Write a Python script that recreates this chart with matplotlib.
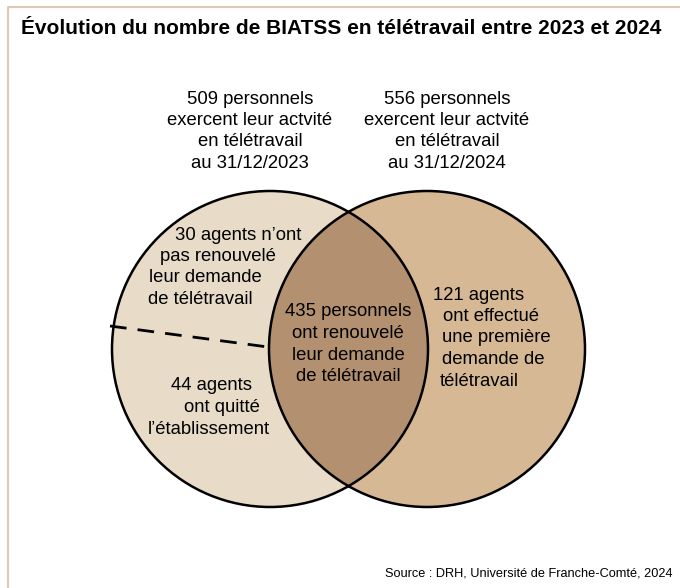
import matplotlib.pyplot as plt
from matplotlib.patches import Circle

# données
total_2023 = 509
total_2024 = 556
renouveles = 435
non_renouveles = 30
departs = 44
nouveaux = 121
annees = ["31/12/2023", "31/12/2024"]

plt.rcParams['font.family'] = ['Liberation Sans', 'DejaVu Sans']

fig = plt.figure(figsize=(6.8, 5.88), dpi=100)
ax = fig.add_axes([0, 0, 1, 1])
ax.set_xlim(0, 680)
ax.set_ylim(588, 0)
ax.axis('off')

# cadre
ax.plot([8, 8, 690], [600, 7, 7], color='#dccab6', lw=1.5, solid_capstyle='butt')

c_left = '#e8dcc8'
c_right = '#d6b895'
c_inter = '#b39170'
r = 158
cl = (270, 349)
cr = (427, 349)

ax.add_patch(Circle(cl, r, facecolor=c_left, edgecolor='none', zorder=1))
ax.add_patch(Circle(cr, r, facecolor=c_right, edgecolor='none', zorder=1))
inter = Circle(cr, r, facecolor=c_inter, edgecolor='none', zorder=2)
ax.add_patch(inter)
inter.set_clip_path(Circle(cl, r, transform=ax.transData))
for c in (cl, cr):
    ax.add_patch(Circle(c, r, facecolor='none', edgecolor='black', lw=1.8, zorder=3))

ax.plot([110, 268], [326, 347], color='black', lw=2, dashes=(6, 4), zorder=3)

ax.text(21, 28, "Évolution du nombre de BIATSS en télétravail entre 2023 et 2024",
        fontsize=15, fontweight='bold', va='center', ha='left')

fs = 13.3
lh = 21.5
def block(lines, x, y0, ha='center'):
    for i, s in enumerate(lines):
        xi = x[i] if isinstance(x, (list, tuple)) else x
        ax.text(xi, y0 + i * lh, s, fontsize=fs, ha=ha, va='center', zorder=4)

block([f"{total_2023} personnels", "exercent leur actvité", "en télétravail", f"au {annees[0]}"], 250, 99)
block([f"{total_2024} personnels", "exercent leur actvité", "en télétravail", f"au {annees[1]}"], 447, 99)

block([f"{non_renouveles} agents n’ont", "pas renouvelé", "leur demande", "de télétravail"],
      [175, 160, 149, 148], 235, ha='left')
block([f"{renouveles} personnels", "ont renouvelé", "leur demande", "de télétravail"], 348, 312)
block([f"{departs} agents", "ont quitté", "l’établissement"], [171, 184, 148], 386, ha='left')
block([f"{nouveaux} agents", "ont effectué", "une première", "demande de", "télétravail"],
      [433, 443, 442, 442, 440], 295, ha='left')

ax.text(385, 574, "Source : DRH, Université de Franche-Comté, 2024", fontsize=9.2, ha='left', va='center')

fig.savefig('out.png', dpi=100)
